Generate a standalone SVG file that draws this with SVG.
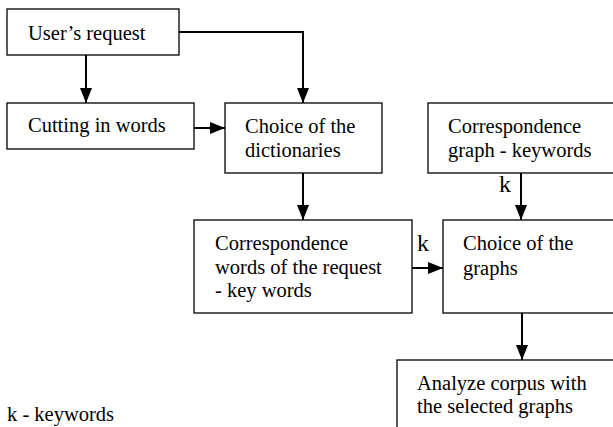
<svg xmlns="http://www.w3.org/2000/svg" width="613" height="427" viewBox="0 0 613 427" font-family="Liberation Serif, Times New Roman, serif">
<style>
.box{fill:#fff;stroke:#000;stroke-width:1.3}
.t{font-size:20.5px;fill:#000}
.k{font-size:24px;fill:#000}
.c{fill:none;stroke:#000;stroke-width:2}
</style>
<defs>
<marker id="ah" viewBox="0 0 15 12" refX="15" refY="6" markerWidth="15" markerHeight="12" markerUnits="userSpaceOnUse" orient="auto">
<path d="M0,0 L15,6 L0,12 z" fill="#000"/>
</marker>
</defs>
<rect width="613" height="427" fill="#fff"/>
<g id="n-request"><rect class="box" x="7" y="9" width="172" height="46"/><text class="t" font-family="Liberation Serif" x="28" y="40">User’s request</text></g>
<g id="n-cutting"><rect class="box" x="7" y="103" width="187" height="46"/><text class="t" font-family="Liberation Serif" x="28" y="132">Cutting in words</text></g>
<g id="n-dict"><rect class="box" x="225" y="103" width="157" height="70"/><text class="t" font-family="Liberation Serif" x="245" y="133">Choice of the</text><text class="t" font-family="Liberation Serif" x="245" y="157">dictionaries</text></g>
<g id="n-corrgraph"><rect class="box" x="428" y="103" width="200" height="70"/><text class="t" font-family="Liberation Serif" x="448" y="133">Correspondence</text><text class="t" font-family="Liberation Serif" x="448" y="157">graph - keywords</text></g>
<g id="n-corrwords"><rect class="box" x="194" y="220" width="218" height="93"/><text class="t" font-family="Liberation Serif" x="215" y="250">Correspondence</text><text class="t" font-family="Liberation Serif" x="215" y="274">words of the request</text><text class="t" font-family="Liberation Serif" x="215" y="297">- key words</text></g>
<g id="n-graphs"><rect class="box" x="443" y="220" width="185" height="93"/><text class="t" font-family="Liberation Serif" x="463" y="250">Choice of the</text><text class="t" font-family="Liberation Serif" x="463" y="275">graphs</text></g>
<g id="n-analyze"><rect class="box" x="397" y="360" width="230" height="80"/><text class="t" font-family="Liberation Serif" x="417" y="390">Analyze corpus with</text><text class="t" font-family="Liberation Serif" x="417" y="413">the selected graphs</text></g>
<g id="connectors">
<path class="c" d="M86,55 V103" marker-end="url(#ah)"/>
<path class="c" d="M179,32 H303 V103" marker-end="url(#ah)"/>
<path class="c" d="M194,128 H225" marker-end="url(#ah)"/>
<path class="c" d="M303,173 V220" marker-end="url(#ah)"/>
<path class="c" d="M521,173 V220" marker-end="url(#ah)"/>
<path class="c" d="M412,268 H443" marker-end="url(#ah)"/>
<path class="c" d="M522,313 V360" marker-end="url(#ah)"/>
<text class="k" font-family="Liberation Serif" x="499" y="192">k</text>
<text class="k" font-family="Liberation Serif" x="417" y="251">k</text>
</g>
<text class="t" font-family="Liberation Serif" x="7" y="421">k - keywords</text>
</svg>
